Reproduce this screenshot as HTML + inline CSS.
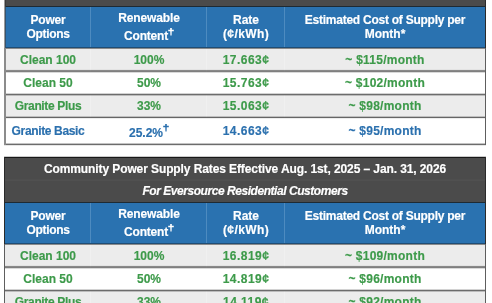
<!DOCTYPE html>
<html><head><meta charset="utf-8"><style>
html,body{margin:0;padding:0;background:#fff;width:492px;height:303px;overflow:hidden}
#w{position:relative;width:492px;height:303px;overflow:hidden}
.b{position:absolute}
.t{position:absolute;will-change:transform;font-family:"Liberation Sans", sans-serif;font-weight:bold;font-size:12px;line-height:14px;text-align:center;white-space:nowrap}
.t{-webkit-text-stroke:0.16px currentColor}
</style></head><body><div id="w">
<div class="b" style="left:4px;top:-39px;width:482px;height:46px;background:#4b4b4b"></div>
<div class="b" style="left:4px;top:7px;width:482px;height:40px;background:#2a72b0"></div>
<div class="b" style="left:90px;top:7px;width:1px;height:40px;background:#4d8bc0"></div>
<div class="b" style="left:206px;top:7px;width:1px;height:40px;background:#4d8bc0"></div>
<div class="b" style="left:284px;top:7px;width:1px;height:40px;background:#4d8bc0"></div>
<div class="b" style="left:4px;top:48px;width:482px;height:24px;background:#ececec"></div>
<div class="b" style="left:90px;top:48px;width:1px;height:24px;background:#f0f0f0"></div>
<div class="b" style="left:206px;top:48px;width:1px;height:24px;background:#f0f0f0"></div>
<div class="b" style="left:284px;top:48px;width:1px;height:24px;background:#f0f0f0"></div>
<div class="b" style="left:4px;top:72px;width:482px;height:23px;background:#ffffff"></div>
<div class="b" style="left:4px;top:95px;width:482px;height:23px;background:#ececec"></div>
<div class="b" style="left:90px;top:95px;width:1px;height:23px;background:#f0f0f0"></div>
<div class="b" style="left:206px;top:95px;width:1px;height:23px;background:#f0f0f0"></div>
<div class="b" style="left:284px;top:95px;width:1px;height:23px;background:#f0f0f0"></div>
<div class="b" style="left:4px;top:118px;width:482px;height:27px;background:#ffffff"></div>
<div class="b" style="left:4px;top:-40px;width:482px;height:1px;background:rgba(17,17,17,0.22)"></div>
<div class="b" style="left:4px;top:-39px;width:482px;height:1px;background:rgba(17,17,17,0.88)"></div>
<div class="b" style="left:4px;top:-17px;width:482px;height:1px;background:#4e4e4e"></div>
<div class="b" style="left:4px;top:-16px;width:482px;height:1px;background:#505050"></div>
<div class="b" style="left:4px;top:6px;width:482px;height:1px;background:#1e2a33"></div>
<div class="b" style="left:4px;top:47px;width:482px;height:1px;background:#1f4d75"></div>
<div class="b" style="left:4px;top:48px;width:482px;height:1px;background:#8a8a8a"></div>
<div class="b" style="left:4px;top:69px;width:482px;height:1px;background:rgba(17,17,17,0.04)"></div>
<div class="b" style="left:4px;top:70px;width:482px;height:1px;background:rgba(17,17,17,0.45)"></div>
<div class="b" style="left:4px;top:71px;width:482px;height:1px;background:rgba(17,17,17,0.5)"></div>
<div class="b" style="left:4px;top:72px;width:482px;height:1px;background:rgba(17,17,17,0.16)"></div>
<div class="b" style="left:4px;top:93px;width:482px;height:1px;background:rgba(17,17,17,0.19)"></div>
<div class="b" style="left:4px;top:94px;width:482px;height:1px;background:rgba(17,17,17,0.62)"></div>
<div class="b" style="left:4px;top:95px;width:482px;height:1px;background:rgba(17,17,17,0.22)"></div>
<div class="b" style="left:4px;top:116px;width:482px;height:1px;background:rgba(17,17,17,0.2)"></div>
<div class="b" style="left:4px;top:117px;width:482px;height:1px;background:rgba(17,17,17,0.62)"></div>
<div class="b" style="left:4px;top:118px;width:482px;height:1px;background:rgba(17,17,17,0.08)"></div>
<div class="b" style="left:4px;top:143px;width:482px;height:1px;background:rgba(17,17,17,0.25)"></div>
<div class="b" style="left:4px;top:144px;width:482px;height:1px;background:rgba(17,17,17,0.62)"></div>
<div class="b" style="left:4px;top:145px;width:482px;height:1px;background:rgba(17,17,17,0.1)"></div>
<div class="b" style="left:4px;top:-39px;width:1px;height:184px;background:#8c8c8c"></div>
<div class="b" style="left:5px;top:-39px;width:1px;height:184px;background:#8c8c8c"></div>
<div class="b" style="left:4px;top:-39px;width:1px;height:87px;background:#9a9a9a"></div>
<div class="b" style="left:5px;top:-39px;width:1px;height:46px;background:#3a3a3a"></div>
<div class="b" style="left:5px;top:7px;width:1px;height:41px;background:#35536e"></div>
<div class="b" style="left:485px;top:-39px;width:1px;height:184px;background:#5e5e5e"></div>
<div class="b" style="left:485px;top:-39px;width:1px;height:87px;background:#2a2a2a"></div>
<div class="t" style="left:-112px;top:13px;width:320px;color:#fff;letter-spacing:-0.25px">Power</div>
<div class="t" style="left:-112px;top:27px;width:320px;color:#fff;letter-spacing:-0.3px">Options</div>
<div class="t" style="left:-11.2px;top:11px;width:320px;color:#fff;letter-spacing:-0.15px">Renewable</div>
<div class="t" style="left:-14.5px;top:29px;width:320px;color:#fff;letter-spacing:-0.2px">Content</div>
<svg class="b" style="left:168px;top:27.5px" width="6" height="8" viewBox="0 0 6 8"><path d="M2.15 0h1.7l-.25 7.4h-1.2z M0.2 1.7h5.6v1.6H0.2z" fill="#fff"/></svg>
<div class="t" style="left:85.8px;top:13px;width:320px;color:#fff">Rate</div>
<div class="t" style="left:85.8px;top:27px;width:320px;color:#fff;letter-spacing:0.4px">(¢/kWh)</div>
<div class="t" style="left:275px;top:13px;width:220px;color:#fff;letter-spacing:-0.25px">Estimated Cost of Supply per</div>
<div class="t" style="left:225px;top:27px;width:320px;color:#fff">Month*</div>
<div class="t" style="left:-112px;top:53px;width:320px;color:#3d9a4a">Clean 100</div>
<div class="t" style="left:-11.2px;top:53px;width:320px;color:#3d9a4a">100%</div>
<div class="t" style="left:85.8px;top:53px;width:320px;color:#3d9a4a;letter-spacing:0.45px">17.663¢</div>
<div class="t" style="left:225px;top:53px;width:320px;color:#3d9a4a;letter-spacing:0.25px">~ $115/month</div>
<div class="t" style="left:-112px;top:76px;width:320px;color:#3d9a4a">Clean 50</div>
<div class="t" style="left:-11.2px;top:76px;width:320px;color:#3d9a4a">50%</div>
<div class="t" style="left:85.8px;top:76px;width:320px;color:#3d9a4a;letter-spacing:0.45px">15.763¢</div>
<div class="t" style="left:225px;top:76px;width:320px;color:#3d9a4a;letter-spacing:0.25px">~ $102/month</div>
<div class="t" style="left:-112px;top:99px;width:320px;color:#3d9a4a;letter-spacing:-0.35px">Granite Plus</div>
<div class="t" style="left:-11.2px;top:99px;width:320px;color:#3d9a4a">33%</div>
<div class="t" style="left:85.8px;top:99px;width:320px;color:#3d9a4a;letter-spacing:0.45px">15.063¢</div>
<div class="t" style="left:225px;top:99px;width:320px;color:#3d9a4a;letter-spacing:0.25px">~ $98/month</div>
<div class="t" style="left:-112px;top:124px;width:320px;color:#2b70ae;letter-spacing:-0.35px">Granite Basic</div>
<svg class="b" style="left:162.9px;top:124px" width="6" height="8" viewBox="0 0 6 8"><path d="M2.15 0h1.7l-.25 7.4h-1.2z M0.2 1.7h5.6v1.6H0.2z" fill="#2b70ae"/></svg>
<div class="t" style="left:-14.1px;top:126px;width:320px;color:#2b70ae">25.2%</div>
<div class="t" style="left:85.8px;top:124px;width:320px;color:#2b70ae;letter-spacing:0.45px">14.663¢</div>
<div class="t" style="left:225px;top:124px;width:320px;color:#2b70ae;letter-spacing:0.25px">~ $95/month</div>
<div class="b" style="left:4px;top:157px;width:482px;height:46px;background:#4b4b4b"></div>
<div class="b" style="left:4px;top:203px;width:482px;height:40px;background:#2a72b0"></div>
<div class="b" style="left:90px;top:203px;width:1px;height:40px;background:#4d8bc0"></div>
<div class="b" style="left:206px;top:203px;width:1px;height:40px;background:#4d8bc0"></div>
<div class="b" style="left:284px;top:203px;width:1px;height:40px;background:#4d8bc0"></div>
<div class="b" style="left:4px;top:244px;width:482px;height:24px;background:#ececec"></div>
<div class="b" style="left:90px;top:244px;width:1px;height:24px;background:#f0f0f0"></div>
<div class="b" style="left:206px;top:244px;width:1px;height:24px;background:#f0f0f0"></div>
<div class="b" style="left:284px;top:244px;width:1px;height:24px;background:#f0f0f0"></div>
<div class="b" style="left:4px;top:268px;width:482px;height:23px;background:#ffffff"></div>
<div class="b" style="left:4px;top:291px;width:482px;height:23px;background:#ececec"></div>
<div class="b" style="left:90px;top:291px;width:1px;height:23px;background:#f0f0f0"></div>
<div class="b" style="left:206px;top:291px;width:1px;height:23px;background:#f0f0f0"></div>
<div class="b" style="left:284px;top:291px;width:1px;height:23px;background:#f0f0f0"></div>
<div class="b" style="left:4px;top:314px;width:482px;height:27px;background:#ffffff"></div>
<div class="b" style="left:4px;top:156px;width:482px;height:1px;background:rgba(17,17,17,0.22)"></div>
<div class="b" style="left:4px;top:157px;width:482px;height:1px;background:rgba(17,17,17,0.88)"></div>
<div class="b" style="left:4px;top:179px;width:482px;height:1px;background:#4e4e4e"></div>
<div class="b" style="left:4px;top:180px;width:482px;height:1px;background:#505050"></div>
<div class="b" style="left:4px;top:202px;width:482px;height:1px;background:#1e2a33"></div>
<div class="b" style="left:4px;top:243px;width:482px;height:1px;background:#1f4d75"></div>
<div class="b" style="left:4px;top:244px;width:482px;height:1px;background:#8a8a8a"></div>
<div class="b" style="left:4px;top:265px;width:482px;height:1px;background:rgba(17,17,17,0.04)"></div>
<div class="b" style="left:4px;top:266px;width:482px;height:1px;background:rgba(17,17,17,0.45)"></div>
<div class="b" style="left:4px;top:267px;width:482px;height:1px;background:rgba(17,17,17,0.5)"></div>
<div class="b" style="left:4px;top:268px;width:482px;height:1px;background:rgba(17,17,17,0.16)"></div>
<div class="b" style="left:4px;top:289px;width:482px;height:1px;background:rgba(17,17,17,0.19)"></div>
<div class="b" style="left:4px;top:290px;width:482px;height:1px;background:rgba(17,17,17,0.62)"></div>
<div class="b" style="left:4px;top:291px;width:482px;height:1px;background:rgba(17,17,17,0.22)"></div>
<div class="b" style="left:4px;top:312px;width:482px;height:1px;background:rgba(17,17,17,0.2)"></div>
<div class="b" style="left:4px;top:313px;width:482px;height:1px;background:rgba(17,17,17,0.62)"></div>
<div class="b" style="left:4px;top:314px;width:482px;height:1px;background:rgba(17,17,17,0.08)"></div>
<div class="b" style="left:4px;top:339px;width:482px;height:1px;background:rgba(17,17,17,0.25)"></div>
<div class="b" style="left:4px;top:340px;width:482px;height:1px;background:rgba(17,17,17,0.62)"></div>
<div class="b" style="left:4px;top:341px;width:482px;height:1px;background:rgba(17,17,17,0.1)"></div>
<div class="b" style="left:4px;top:157px;width:1px;height:184px;background:#5e5e5e"></div>
<div class="b" style="left:4px;top:157px;width:1px;height:87px;background:#2a2a2a"></div>
<div class="b" style="left:485px;top:157px;width:1px;height:184px;background:#5e5e5e"></div>
<div class="b" style="left:485px;top:157px;width:1px;height:87px;background:#2a2a2a"></div>
<div class="t" style="left:4.7px;top:162px;width:480px;color:#fff;letter-spacing:-0.1px">Community Power Supply Rates Effective Aug. 1st, 2025 – Jan. 31, 2026</div>
<div class="t" style="left:5px;top:184px;width:480px;color:#fff;letter-spacing:-0.45px;font-style:italic">For Eversource Residential Customers</div>
<div class="t" style="left:-112px;top:209px;width:320px;color:#fff;letter-spacing:-0.25px">Power</div>
<div class="t" style="left:-112px;top:223px;width:320px;color:#fff;letter-spacing:-0.3px">Options</div>
<div class="t" style="left:-11.2px;top:207px;width:320px;color:#fff;letter-spacing:-0.15px">Renewable</div>
<div class="t" style="left:-14.5px;top:225px;width:320px;color:#fff;letter-spacing:-0.2px">Content</div>
<svg class="b" style="left:168px;top:223.5px" width="6" height="8" viewBox="0 0 6 8"><path d="M2.15 0h1.7l-.25 7.4h-1.2z M0.2 1.7h5.6v1.6H0.2z" fill="#fff"/></svg>
<div class="t" style="left:85.8px;top:209px;width:320px;color:#fff">Rate</div>
<div class="t" style="left:85.8px;top:223px;width:320px;color:#fff;letter-spacing:0.4px">(¢/kWh)</div>
<div class="t" style="left:275px;top:209px;width:220px;color:#fff;letter-spacing:-0.25px">Estimated Cost of Supply per</div>
<div class="t" style="left:225px;top:223px;width:320px;color:#fff">Month*</div>
<div class="t" style="left:-112px;top:249px;width:320px;color:#3d9a4a">Clean 100</div>
<div class="t" style="left:-11.2px;top:249px;width:320px;color:#3d9a4a">100%</div>
<div class="t" style="left:85.8px;top:249px;width:320px;color:#3d9a4a;letter-spacing:0.45px">16.819¢</div>
<div class="t" style="left:225px;top:249px;width:320px;color:#3d9a4a;letter-spacing:0.25px">~ $109/month</div>
<div class="t" style="left:-112px;top:272px;width:320px;color:#3d9a4a">Clean 50</div>
<div class="t" style="left:-11.2px;top:272px;width:320px;color:#3d9a4a">50%</div>
<div class="t" style="left:85.8px;top:272px;width:320px;color:#3d9a4a;letter-spacing:0.45px">14.819¢</div>
<div class="t" style="left:225px;top:272px;width:320px;color:#3d9a4a;letter-spacing:0.25px">~ $96/month</div>
<div class="t" style="left:-112px;top:295px;width:320px;color:#3d9a4a;letter-spacing:-0.35px">Granite Plus</div>
<div class="t" style="left:-11.2px;top:295px;width:320px;color:#3d9a4a">33%</div>
<div class="t" style="left:85.8px;top:295px;width:320px;color:#3d9a4a;letter-spacing:0.45px">14.119¢</div>
<div class="t" style="left:225px;top:295px;width:320px;color:#3d9a4a;letter-spacing:0.25px">~ $92/month</div>
<div class="t" style="left:-112px;top:320px;width:320px;color:#2b70ae;letter-spacing:-0.35px">Granite Basic</div>
<svg class="b" style="left:162.9px;top:320px" width="6" height="8" viewBox="0 0 6 8"><path d="M2.15 0h1.7l-.25 7.4h-1.2z M0.2 1.7h5.6v1.6H0.2z" fill="#2b70ae"/></svg>
<div class="t" style="left:-14.1px;top:322px;width:320px;color:#2b70ae">25.2%</div>
<div class="t" style="left:85.8px;top:320px;width:320px;color:#2b70ae;letter-spacing:0.45px">13.919¢</div>
<div class="t" style="left:225px;top:320px;width:320px;color:#2b70ae;letter-spacing:0.25px">~ $90/month</div>
</div></body></html>
